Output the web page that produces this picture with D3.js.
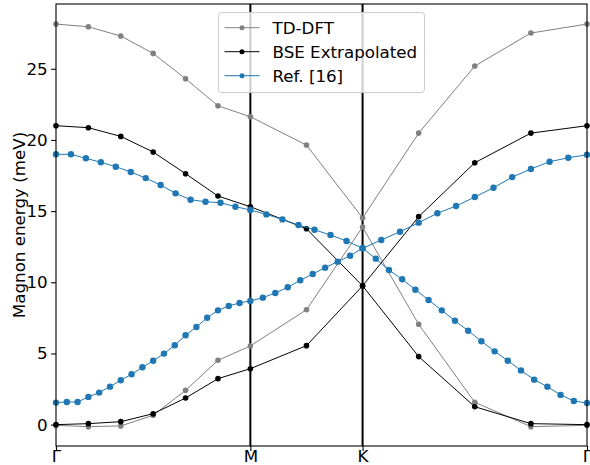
<!DOCTYPE html>
<html>
<head>
<meta charset="utf-8">
<script src="https://cdn.jsdelivr.net/npm/d3@7"></script>
<style>
  body { margin: 0; background: #fff; }
  svg { display: block; font-family: "DejaVu Sans", sans-serif; }
</style>
</head>
<body>
<svg width="590" height="465"></svg>
<script>
// high symmetry path
var kLabels = ["Γ", "M", "K", "Γ"]
var segLen = [1 / Math.sqrt(3), 1 / 3, 2 / 3]

// TD-DFT and BSE sampled on 6 / 2 / 4 divisions
var calcDivs = [6, 2, 4]
var tddftHi = [28.14, 27.95, 27.30, 26.08, 24.30, 22.40, 21.63, 19.64, 14.52, 20.48, 25.19, 27.51, 28.14]
var tddftLo = [-0.05, -0.14, -0.09, 0.66, 2.41, 4.52, 5.53, 8.07, 13.88, 7.05, 1.57, -0.14, -0.05]
var bseHi = [21.0, 20.86, 20.25, 19.15, 17.63, 16.06, 15.31, 13.76, 9.75, 14.61, 18.40, 20.48, 21.0]
var bseLo = [0.0, 0.07, 0.21, 0.77, 1.87, 3.23, 3.93, 5.55, 9.75, 4.78, 1.26, 0.07, 0.0]

// Ref. [16] digitised branches
var refHiDivs = [13, 7, 12]
var refHi = [18.99, 18.99, 18.71, 18.43, 18.12, 17.75, 17.32, 16.83, 16.25, 15.80, 15.66, 15.59, 15.31, 15.08,
    14.77, 14.42, 14.02, 13.69, 13.32, 12.90, 12.39,
    12.97, 13.55, 14.19, 14.85, 15.36, 15.99, 16.64, 17.39, 17.96, 18.47, 18.75, 18.96]
var refLoDivs = [18, 9, 17]
var refLo = [1.55, 1.59, 1.59, 1.95, 2.25, 2.67, 3.12, 3.54, 4.03, 4.49, 4.99, 5.58, 6.28, 6.86, 7.51, 8.03, 8.34, 8.55, 8.69,
    8.92, 9.25, 9.65, 10.14, 10.58, 11.03, 11.45, 11.87, 12.39,
    11.66, 10.86, 10.21, 9.48, 8.76, 8.03, 7.30, 6.60, 5.86, 5.15, 4.49, 3.81, 3.16, 2.67, 2.09, 1.66, 1.52]

var yTicks = [0, 5, 10, 15, 20, 25]

var series = [
    { name: "TD-DFT", color: "#808080", r: 2.8, divs: calcDivs, bands: [tddftHi, tddftLo] },
    { name: "BSE Extrapolated", color: "#000000", r: 2.8, divs: calcDivs, bands: [bseHi, bseLo] },
    { name: "Ref. [16]", color: "#1f77b4", r: 3.2, divs: null, bands: [refHi, refLo], divList: [refHiDivs, refLoDivs] }
]

// cumulative positions of the symmetry points
var kPos = [0]
segLen.forEach(function(l, i) { kPos.push(kPos[i] + l) })

function kGrid(divs) {
    var xs = [0]
    divs.forEach(function(n, s) {
        for (var i = 1; i <= n; i++) xs.push(kPos[s] + segLen[s] * i / n)
    })
    return xs
}

var svg = d3.select("svg")
var margin = { left: 56, right: 3, top: 4, bottom: 19 }
var width = +svg.attr("width") - margin.left - margin.right
var height = +svg.attr("height") - margin.top - margin.bottom
var g = svg.append("g").attr("transform", "translate(" + margin.left + "," + margin.top + ")")

var x = d3.scaleLinear().domain([0, kPos[3]]).range([0, width])
var y = d3.scaleLinear().domain([-1.5, 29.55]).range([height, 0])

// vertical lines at M and K
g.selectAll(".vline").data([kPos[1], kPos[2]]).enter().append("line")
    .attr("x1", d => x(d)).attr("x2", d => x(d))
    .attr("y1", 0).attr("y2", height)
    .attr("stroke", "#000").attr("stroke-width", 2)

var line = d3.line().x(d => x(d[0])).y(d => y(d[1]))

series.forEach(function(s) {
    s.bands.forEach(function(band, bi) {
        var xs = kGrid(s.divs || s.divList[bi])
        var pts = band.map((v, i) => [xs[i], v])
        g.append("path").datum(pts)
            .attr("d", line)
            .attr("fill", "none")
            .attr("stroke", s.color)
            .attr("stroke-width", 1)
        g.selectAll(null).data(pts).enter().append("circle")
            .attr("cx", d => x(d[0])).attr("cy", d => y(d[1]))
            .attr("r", s.r)
            .attr("fill", s.color)
    })
})

// axes
var yAxis = d3.axisLeft(y).tickValues(yTicks).tickSize(4.9).tickPadding(3.5)
var xAxis = d3.axisBottom(x).tickValues(kPos).tickFormat((d, i) => kLabels[i]).tickSize(4.9)

var ya = g.append("g").call(yAxis)
var xa = g.append("g").attr("transform", "translate(0," + height + ")").call(xAxis)
;[ya, xa].forEach(function(a) {
    a.select(".domain").remove()
    a.selectAll("line").attr("stroke", "#000").attr("stroke-width", 1.1)
    a.selectAll("text").attr("font-size", 16.7).attr("font-family", "DejaVu Sans").attr("fill", "#000")
})
// x labels sit tight under the axis, baseline ~16px below it
xa.selectAll("text").attr("y", 15.5).attr("dy", 0)

g.append("rect").attr("width", width).attr("height", height)
    .attr("fill", "none").attr("stroke", "#000").attr("stroke-width", 1.1)

svg.append("text")
    .attr("transform", "translate(19," + (margin.top + height / 2) + ") rotate(-90)")
    .attr("text-anchor", "middle")
    .attr("dominant-baseline", "central")
    .attr("font-size", 16.7)
    .text("Magnon energy (meV)")

// legend
var leg = svg.append("g").attr("transform", "translate(218.5,12.5)")
leg.append("rect").attr("width", 206).attr("height", 80).attr("rx", 3)
    .attr("fill", "#fff").attr("fill-opacity", 0.8)
    .attr("stroke", "#cccccc").attr("stroke-width", 1)

var rows = leg.selectAll(".row").data(series).enter().append("g")
    .attr("transform", (d, i) => "translate(0," + (15.2 + i * 24) + ")")
rows.append("line").attr("x1", 6).attr("x2", 41)
    .attr("stroke", d => d.color).attr("stroke-width", 1)
rows.append("circle").attr("cx", 23.5).attr("r", 2.5).attr("fill", d => d.color)
rows.append("text").attr("x", 54).attr("dy", "0.36em")
    .attr("font-size", 16.7)
    .text(d => d.name)
</script>
</body>
</html>
